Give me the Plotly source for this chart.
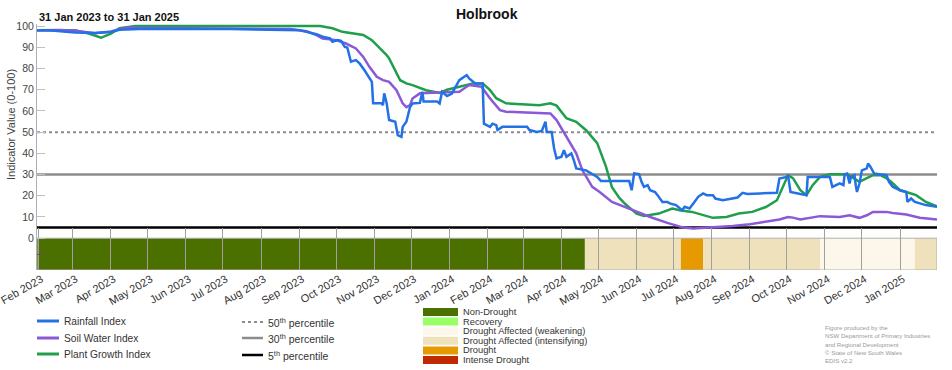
import plotly.graph_objects as go

FONT = "Liberation Sans, Arial, sans-serif"

# ---------------- data ----------------
rain_dates = ["2023-01-31","2023-02-10","2023-02-19","2023-03-03","2023-03-19","2023-04-01","2023-04-08","2023-04-24",
    "2023-07-07","2023-08-08","2023-09-01","2023-09-07","2023-09-15","2023-09-20","2023-09-26","2023-09-28","2023-10-02",
    "2023-10-05","2023-10-08","2023-10-10","2023-10-13","2023-10-17","2023-10-20","2023-10-24","2023-10-28","2023-10-30",
    "2023-10-31","2023-11-07","2023-11-08","2023-11-09","2023-11-11","2023-11-13","2023-11-18","2023-11-20","2023-11-23",
    "2023-11-24","2023-11-27","2023-11-30","2023-12-02","2023-12-08","2023-12-10","2023-12-11","2023-12-22","2023-12-24",
    "2023-12-26","2023-12-30","2024-01-03","2024-01-09","2024-01-13","2024-01-15","2024-01-17","2024-01-22","2024-01-28",
    "2024-01-29","2024-02-03","2024-02-05","2024-02-08","2024-02-09","2024-02-13","2024-03-04","2024-03-06","2024-03-12",
    "2024-03-16","2024-03-19","2024-03-20","2024-03-24","2024-03-26","2024-03-28","2024-04-01","2024-04-03","2024-04-05",
    "2024-04-09","2024-04-11","2024-04-13","2024-04-21","2024-04-30","2024-05-03","2024-05-26","2024-05-28","2024-05-30",
    "2024-06-03","2024-06-05","2024-06-07","2024-06-10","2024-06-12","2024-06-16","2024-06-18","2024-06-22","2024-06-26",
    "2024-06-28","2024-07-03","2024-07-06","2024-07-08","2024-07-10","2024-07-14","2024-07-18","2024-07-21","2024-07-25",
    "2024-07-28","2024-08-02","2024-08-04","2024-08-10","2024-08-16","2024-08-22","2024-08-26","2024-08-30","2024-09-09",
    "2024-09-23","2024-09-25","2024-10-01","2024-10-02","2024-10-04","2024-10-12","2024-10-17","2024-10-18","2024-11-05",
    "2024-11-07","2024-11-13","2024-11-16","2024-11-17","2024-11-19","2024-11-21","2024-11-22","2024-11-25","2024-11-26",
    "2024-11-27","2024-11-29","2024-12-01","2024-12-05","2024-12-06","2024-12-08","2024-12-11","2024-12-15","2024-12-21",
    "2024-12-23","2024-12-26","2025-01-01","2025-01-06","2025-01-07","2025-01-10","2025-01-13","2025-01-17","2025-01-22",
    "2025-01-31"]
rain_values = [98,98,97.6,97,96.8,97.2,98.3,98.6,
    98.7,98.3,98,97.3,96.2,95,94.2,92.6,93.4,
    93,90.2,89.9,83.2,84,82.4,79.2,75.3,73.7,
    63.6,63.6,62.7,68.3,63.6,55.7,54.9,48.6,47.8,
    52.5,54.9,61.9,63.5,63.8,69,64.4,64.4,63.5,
    69,67,68.2,74.5,76.1,76.9,75.3,73,73,
    54,52.5,54,53.3,51,52.5,52.5,51,50.1,
    50.6,54.9,50.1,50.1,42.3,37.6,38.4,41.5,38.4,
    40,36.8,32.9,32,28.9,27,27,22.6,30.5,
    30.2,26.6,24.2,25,22.6,21.8,20.3,17.1,17.1,
    16.4,15.6,14,13.2,14.8,14,17.1,19.5,21.1,
    20.3,20.3,18.7,17.9,18.7,19.2,21.4,20.8,21.1,
    21.4,28.1,28.9,29.7,21.8,20.8,20.3,28.9,28.9,
    24.2,25.8,25,30.2,30.5,25.8,28.9,29.7,25,
    21.8,25.8,32,32.9,35.2,33.6,30.5,30.2,29.7,
    26.6,24.2,22.6,21.8,17.1,18.7,17.1,16.4,15.6,
    14.8]

soil_dates = ["2023-01-31","2023-02-19","2023-03-03","2023-03-19","2023-04-01","2023-04-13","2023-06-01","2023-08-25",
    "2023-09-07","2023-09-15","2023-09-20","2023-10-01","2023-10-09","2023-10-17","2023-10-23","2023-10-28","2023-11-03",
    "2023-11-08","2023-11-13","2023-11-19","2023-11-24","2023-11-27","2023-11-30","2023-12-02","2023-12-08","2023-12-22",
    "2023-12-30","2024-01-09","2024-01-17","2024-01-27","2024-02-03","2024-02-11","2024-02-16","2024-03-14","2024-03-23",
    "2024-03-28","2024-04-05","2024-04-13","2024-04-18","2024-04-26","2024-05-02","2024-05-12","2024-05-29","2024-06-12",
    "2024-06-26","2024-07-09","2024-07-17","2024-07-28","2024-08-18","2024-09-01","2024-09-14","2024-09-25","2024-10-02",
    "2024-10-06","2024-10-12","2024-10-20","2024-10-28","2024-11-13","2024-11-21","2024-11-29","2024-12-05","2024-12-10",
    "2024-12-21","2024-12-26","2025-01-06","2025-01-17","2025-01-31"]
soil_values = [98,98.2,97.8,96.7,97.5,99.2,99,98.6,
    97.6,95.8,94.2,93.4,91.8,89.5,85.5,80.8,76.1,
    74.5,73.7,69.8,63.6,61.8,62.7,65.9,68.3,68.5,
    68.8,69,72.2,71.4,65.9,60.4,59.6,59.1,58.8,
    55.7,47.8,40,32,24.2,21.8,17.1,13.2,10,
    7.2,5,4.6,5,5.7,6.6,7.7,8.8,10,
    9.7,8.8,9.7,10.4,10,10.8,9.6,10.8,12.4,
    12.4,11.9,11.2,9.6,8.8]

plant_dates = ["2023-01-31","2023-02-19","2023-03-03","2023-03-14","2023-03-24","2023-04-01","2023-04-08","2023-04-21",
    "2023-09-18","2023-09-28","2023-10-06","2023-10-23","2023-10-30","2023-11-11","2023-11-13","2023-11-22","2023-11-27",
    "2023-12-02","2023-12-13","2023-12-24","2023-12-30","2024-01-09","2024-01-20","2024-01-28","2024-02-03","2024-02-08",
    "2024-02-16","2024-03-14","2024-03-23","2024-03-28","2024-04-05","2024-04-13","2024-04-21","2024-04-30","2024-05-07",
    "2024-05-12","2024-05-18","2024-05-23","2024-06-01","2024-06-07","2024-06-19","2024-06-30","2024-07-06","2024-07-16",
    "2024-07-25","2024-08-02","2024-08-13","2024-08-23","2024-09-03","2024-09-14","2024-09-23","2024-09-28","2024-10-02",
    "2024-10-06","2024-10-12","2024-10-17","2024-10-22","2024-10-28","2024-11-05","2024-11-19","2024-11-24","2024-11-29",
    "2024-12-05","2024-12-10","2024-12-16","2024-12-21","2024-12-26","2025-01-01","2025-01-06","2025-01-14","2025-01-22",
    "2025-01-31"]
plant_values = [98,98.2,98,96.5,94.5,96.5,99,100,
    100,99,97.3,95.8,93.4,86.3,84.8,74.5,73,
    72.2,69.8,68.5,70,71.4,73,73,69.8,66,
    63.6,62.7,63.6,62.5,56.6,54.9,50.9,44.8,34,
    24,19,16,11.6,10.5,11.6,14,13.2,12.4,
    10.8,9.6,10,11.6,12.4,14.7,17.9,24.2,29.7,
    28.3,22.6,20.3,25,28.9,30.2,30.2,28.3,26.6,
    28.3,29.7,29.7,28.3,25.9,22.6,21.8,20.3,17.1,
    15]

percentile_values = [50, 30, 5]
percentile_names = ["50<sup>th</sup> percentile", "30<sup>th</sup> percentile", "5<sup>th</sup> percentile"]

status_start = ["2023-01-31", "2024-04-20", "2024-07-07", "2024-07-25", "2024-10-28", "2025-01-13"]
status_end = ["2024-04-20", "2024-07-07", "2024-07-25", "2024-10-28", "2025-01-13", "2025-01-31"]
status_cat = ["Non-Drought", "Drought Affected (intensifying)", "Drought",
              "Drought Affected (intensifying)", "Drought Affected (weakening)",
              "Drought Affected (intensifying)"]

categories = ["Non-Drought", "Recovery", "Drought Affected (weakening)",
              "Drought Affected (intensifying)", "Drought", "Intense Drought"]
cat_colors = ["#4B7000", "#99FF66", "#FDF6EA", "#EEE1BB", "#E69A00", "#C12A00"]

series_names = ["Rainfall Index", "Soil Water Index", "Plant Growth Index"]
series_colors = ["#2271E6", "#8B58D8", "#1F9E4C"]

x_start, x_end = "2023-01-31", "2025-01-31"
month_ticks = ["2023-02-01","2023-03-01","2023-04-01","2023-05-01","2023-06-01","2023-07-01","2023-08-01",
    "2023-09-01","2023-10-01","2023-11-01","2023-12-01","2024-01-01","2024-02-01","2024-03-01","2024-04-01",
    "2024-05-01","2024-06-01","2024-07-01","2024-08-01","2024-09-01","2024-10-01","2024-11-01","2024-12-01",
    "2025-01-01"]
y_ticks = [0, 10, 20, 30, 40, 50, 60, 70, 80, 90, 100]
y_minor_ticks = [-15, -7.5]
strip_bottom = -15

# ---------------- figure ----------------
L, R, T, B = 37, 15, 24, 100
W, H = 952, 370
PW, PH = W - L - R, H - T - B


def px(xpix):
    return (xpix - L) / PW


def py(ypix):
    return (H - B - ypix) / PH


fig = go.Figure()
cat_color = dict(zip(categories, cat_colors))
shapes = []
for s, e, c in zip(status_start, status_end, status_cat):
    shapes.append(dict(type="rect", xref="x", yref="y", x0=s, x1=e, y0=strip_bottom, y1=0,
                       fillcolor=cat_color[c], line=dict(width=0), layer="below"))
shapes.append(dict(type="rect", xref="x", yref="y", x0=x_start, x1=x_end, y0=strip_bottom, y1=0,
                   fillcolor="rgba(0,0,0,0)", line=dict(color="#B0B0B0", width=1), layer="below"))

perc_styles = [dict(color="#8C8C8C", width=2, dash="dot"),
               dict(color="#8C8C8C", width=2.5, dash="solid"),
               dict(color="#000000", width=2.5, dash="solid")]
for v, st in zip(percentile_values, perc_styles):
    fig.add_trace(go.Scatter(x=[x_start, x_end], y=[v, v], mode="lines", line=st,
                             showlegend=False, hoverinfo="skip"))

series_dates = [rain_dates, soil_dates, plant_dates]
series_values = [rain_values, soil_values, plant_values]
# draw plant growth first, rainfall last (on top)
for i in [2, 1, 0]:
    fig.add_trace(go.Scatter(x=series_dates[i], y=series_values[i], mode="lines", name=series_names[i],
                             line=dict(color=series_colors[i], width=2.5), showlegend=False))

annotations = []
# custom legend: series
line_rows = [321, 338, 354]
for name, col, yy in zip(series_names, series_colors, line_rows):
    shapes.append(dict(type="line", xref="paper", yref="paper", x0=px(37), x1=px(59), y0=py(yy), y1=py(yy),
                       line=dict(color=col, width=3)))
    annotations.append(dict(xref="paper", yref="paper", x=px(62), y=py(yy), text=name, showarrow=False,
                            xanchor="left", yanchor="middle", font=dict(size=10.2, color="#333", family=FONT)))
for name, st, yy in zip(percentile_names, perc_styles, [322, 338, 355]):
    shapes.append(dict(type="line", xref="paper", yref="paper", x0=px(242), x1=px(263), y0=py(yy), y1=py(yy),
                       line=dict(color=st["color"], width=2.5 if st["dash"] == "solid" else 2, dash=st["dash"])))
    annotations.append(dict(xref="paper", yref="paper", x=px(266), y=py(yy), text=name, showarrow=False,
                            xanchor="left", yanchor="middle",
                            font=dict(size=10.5, color="#333", family=FONT)))
cat_rows = [312, 321.6, 331.2, 340.8, 350.4, 360]
for name, col, yy in zip(categories, cat_colors, cat_rows):
    shapes.append(dict(type="rect", xref="paper", yref="paper", x0=px(423), x1=px(458),
                       y0=py(yy + 4), y1=py(yy - 4), fillcolor=col, line=dict(width=0)))
    annotations.append(dict(xref="paper", yref="paper", x=px(462), y=py(yy), text=name, showarrow=False,
                            xanchor="left", yanchor="middle", borderpad=0,
                            font=dict(size=9.3, color="#333", family=FONT)))

credit = ["Figure produced by the", "NSW Department of Primary Industries", "and Regional Development",
          "\u00a9 State of New South Wales", "EDIS v2.2"]
for i, t in enumerate(credit):
    annotations.append(dict(xref="paper", yref="paper", x=px(824), y=py(327.5 + i * 8.3), text=t,
                            showarrow=False, xanchor="left", yanchor="middle", borderpad=0,
                            font=dict(size=6.1, color="#9A9A9A", family=FONT)))

annotations.append(dict(xref="paper", yref="paper", x=0.5, y=py(14), text="<b>Holbrook</b>", showarrow=False,
                        xanchor="center", yanchor="middle", font=dict(size=14, color="#111", family=FONT)))
annotations.append(dict(xref="paper", yref="paper", x=px(37), y=py(17), text="<b>31 Jan 2023 to 31 Jan 2025</b>",
                        showarrow=False, xanchor="left", yanchor="middle",
                        font=dict(size=11, color="#111", family=FONT)))
annotations.append(dict(xref="paper", yref="paper", x=px(11), y=py(125), text="Indicator Value (0-100)",
                        showarrow=False, textangle=-90, xanchor="center", yanchor="middle",
                        font=dict(size=11, color="#444", family=FONT)))

fig.update_layout(
    width=W, height=H, margin=dict(l=L, r=R, t=T, b=B, autoexpand=False),
    plot_bgcolor="white", paper_bgcolor="white",
    font=dict(family=FONT, color="#333"),
    shapes=shapes, annotations=annotations, showlegend=False,
    xaxis=dict(range=[x_start, x_end], tickvals=month_ticks, tickformat="%b %Y", tickangle=-30,
               ticks="inside", ticklen=42, tickcolor="#A0A0A0", tickwidth=1,
               showgrid=False, zeroline=False, showline=False, ticklabeloverflow="allow",
               ticklabelshift=3,
               tickfont=dict(size=11, color="#333", family=FONT)),
    yaxis=dict(range=[strip_bottom, 101], tickvals=y_ticks,
               ticks="inside", ticklen=8, tickcolor="#C0C0C0", showgrid=False, zeroline=False,
               showline=True, linecolor="#B0B0B0", linewidth=1,
               minor=dict(tickvals=y_minor_ticks, ticks="inside", ticklen=8, tickcolor="#555555"),
               tickfont=dict(size=10.5, color="#444", family=FONT)),
)

fig.write_html("out.html", config={"displayModeBar": False},
               post_script="document.body.style.margin='0px';")
